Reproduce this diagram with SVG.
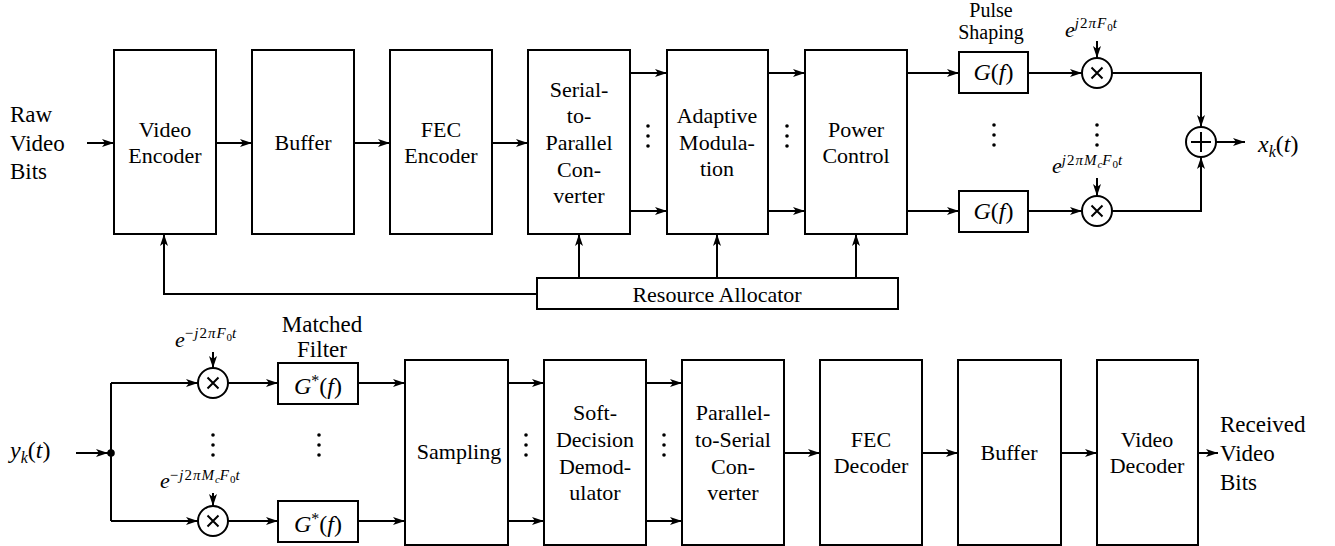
<svg xmlns="http://www.w3.org/2000/svg" width="1335" height="546" viewBox="0 0 1335 546" font-family="Liberation Serif">
<defs>
<marker id="ah" viewBox="0 0 12 10" refX="12" refY="5" markerWidth="12" markerHeight="10" markerUnits="userSpaceOnUse" orient="auto">
<path d="M0,1 L12,5 L0,9 L3,5 z" fill="#000" stroke="none"/>
</marker>
</defs>

<g id="connectors" fill="none" stroke="#000" stroke-width="2" marker-end="url(#ah)">
<line x1="87" y1="143" x2="114" y2="143"/>
<line x1="216" y1="143" x2="252" y2="143"/>
<line x1="354" y1="143" x2="390" y2="143"/>
<line x1="492" y1="143" x2="528" y2="143"/>
<line x1="630" y1="73" x2="667" y2="73"/>
<line x1="630" y1="211" x2="667" y2="211"/>
<line x1="768" y1="73" x2="805" y2="73"/>
<line x1="768" y1="211" x2="805" y2="211"/>
<line x1="907" y1="73" x2="959" y2="73"/>
<line x1="907" y1="211" x2="959" y2="211"/>
<line x1="1028" y1="73" x2="1082" y2="73"/>
<line x1="1028" y1="211" x2="1082" y2="211"/>
<line x1="1097" y1="41" x2="1097" y2="58"/>
<line x1="1097" y1="178" x2="1097" y2="196"/>
<polyline points="1112,73 1201,73 1201,127"/>
<polyline points="1112,211 1201,211 1201,157"/>
<line x1="1216" y1="142" x2="1245" y2="142"/>
<line x1="579" y1="278" x2="579" y2="234"/>
<line x1="717" y1="278" x2="717" y2="234"/>
<line x1="856" y1="278" x2="856" y2="234"/>
<polyline points="537,294 164,294 164,234"/>
<line x1="76" y1="453" x2="108" y2="453"/>
<line x1="111" y1="383" x2="111" y2="521" marker-end="none"/>
<line x1="111" y1="383" x2="198" y2="383"/>
<line x1="111" y1="521" x2="198" y2="521"/>
<line x1="213" y1="352" x2="213" y2="368"/>
<line x1="213" y1="493" x2="213" y2="506"/>
<line x1="228" y1="383" x2="278" y2="383"/>
<line x1="228" y1="521" x2="278" y2="521"/>
<line x1="358" y1="383" x2="405" y2="383"/>
<line x1="358" y1="521" x2="405" y2="521"/>
<line x1="508" y1="383" x2="544" y2="383"/>
<line x1="508" y1="521" x2="544" y2="521"/>
<line x1="646" y1="383" x2="682" y2="383"/>
<line x1="646" y1="521" x2="682" y2="521"/>
<line x1="784" y1="453" x2="820" y2="453"/>
<line x1="922" y1="453" x2="958" y2="453"/>
<line x1="1061" y1="453" x2="1097" y2="453"/>
<line x1="1198" y1="453" x2="1218" y2="453"/>
</g>

<g id="dots" fill="#000">
<circle cx="111" cy="453" r="3.8"/>
<circle cx="648" cy="126" r="1.8"/><circle cx="648" cy="136" r="1.8"/><circle cx="648" cy="146" r="1.8"/>
<circle cx="787" cy="126" r="1.8"/><circle cx="787" cy="136" r="1.8"/><circle cx="787" cy="146" r="1.8"/>
<circle cx="994" cy="125" r="1.8"/><circle cx="994" cy="135" r="1.8"/><circle cx="994" cy="145" r="1.8"/>
<circle cx="1097" cy="125" r="1.8"/><circle cx="1097" cy="135" r="1.8"/><circle cx="1097" cy="145" r="1.8"/>
<circle cx="213" cy="435" r="1.8"/><circle cx="213" cy="445" r="1.8"/><circle cx="213" cy="455" r="1.8"/>
<circle cx="319" cy="435" r="1.8"/><circle cx="319" cy="445" r="1.8"/><circle cx="319" cy="455" r="1.8"/>
<circle cx="526" cy="435" r="1.8"/><circle cx="526" cy="445" r="1.8"/><circle cx="526" cy="455" r="1.8"/>
<circle cx="664" cy="435" r="1.8"/><circle cx="664" cy="445" r="1.8"/><circle cx="664" cy="455" r="1.8"/>
</g>

<g id="raw-label" font-family="Liberation Serif" font-size="23">
<text x="10" y="122" font-family="Liberation Serif">Raw</text>
<text x="10" y="151" font-family="Liberation Serif">Video</text>
<text x="10" y="179" font-family="Liberation Serif">Bits</text>
</g>

<g id="video-encoder" font-size="22" text-anchor="middle">
<rect x="114" y="50" width="102" height="184" fill="#fff" stroke="#000" stroke-width="2"/>
<text x="165" y="137" font-family="Liberation Serif">Video</text>
<text x="165" y="163" font-family="Liberation Serif">Encoder</text>
</g>
<g id="buffer-tx" font-size="22" text-anchor="middle">
<rect x="252" y="50" width="102" height="184" fill="#fff" stroke="#000" stroke-width="2"/>
<text x="303" y="150" font-family="Liberation Serif">Buffer</text>
</g>
<g id="fec-encoder" font-size="22" text-anchor="middle">
<rect x="390" y="50" width="102" height="184" fill="#fff" stroke="#000" stroke-width="2"/>
<text x="441" y="137" font-family="Liberation Serif">FEC</text>
<text x="441" y="163" font-family="Liberation Serif">Encoder</text>
</g>
<g id="s2p" font-size="22" text-anchor="middle">
<rect x="528" y="50" width="102" height="184" fill="#fff" stroke="#000" stroke-width="2"/>
<text x="579" y="97" font-family="Liberation Serif">Serial-</text>
<text x="579" y="123" font-family="Liberation Serif">to-</text>
<text x="579" y="150" font-family="Liberation Serif">Parallel</text>
<text x="579" y="177" font-family="Liberation Serif">Con-</text>
<text x="579" y="203" font-family="Liberation Serif">verter</text>
</g>
<g id="adaptive-modulation" font-size="22" text-anchor="middle">
<rect x="667" y="50" width="101" height="184" fill="#fff" stroke="#000" stroke-width="2"/>
<text x="717" y="123" font-family="Liberation Serif">Adaptive</text>
<text x="717" y="150" font-family="Liberation Serif">Modula-</text>
<text x="717" y="176" font-family="Liberation Serif">tion</text>
</g>
<g id="power-control" font-size="22" text-anchor="middle">
<rect x="805" y="50" width="102" height="184" fill="#fff" stroke="#000" stroke-width="2"/>
<text x="856" y="137" font-family="Liberation Serif">Power</text>
<text x="856" y="163" font-family="Liberation Serif">Control</text>
</g>

<g id="pulse-shaping-label" font-size="20" text-anchor="middle">
<text x="991" y="17" font-family="Liberation Serif">Pulse</text>
<text x="991" y="39" font-family="Liberation Serif">Shaping</text>
</g>
<g id="g1" font-size="24" text-anchor="middle">
<rect x="959" y="52" width="69" height="41" fill="#fff" stroke="#000" stroke-width="2"/>
<text x="993.5" y="80" font-family="Liberation Serif"><tspan font-style="italic">G</tspan>(<tspan font-style="italic">f</tspan>)</text>
</g>
<g id="g2" font-size="24" text-anchor="middle">
<rect x="959" y="191" width="69" height="41" fill="#fff" stroke="#000" stroke-width="2"/>
<text x="993.5" y="219" font-family="Liberation Serif"><tspan font-style="italic">G</tspan>(<tspan font-style="italic">f</tspan>)</text>
</g>
<g id="mult-tx-1">
<circle cx="1097" cy="73" r="15" fill="#fff" stroke="#000" stroke-width="2"/>
<path d="M1091.5,67.5 L1102.5,78.5 M1102.5,67.5 L1091.5,78.5" fill="none" stroke="#000" stroke-width="2"/>
<text x="1065" y="37" font-family="Liberation Serif" font-size="22"><tspan font-style="italic">e</tspan><tspan dy="-9" font-size="15" letter-spacing="1"><tspan font-style="italic">j</tspan>2<tspan font-style="italic">πF</tspan></tspan><tspan dy="3" font-size="11">0</tspan><tspan dy="-3" font-size="15" font-style="italic">t</tspan></text>
</g>
<g id="mult-tx-2">
<circle cx="1097" cy="211" r="15" fill="#fff" stroke="#000" stroke-width="2"/>
<path d="M1091.5,205.5 L1102.5,216.5 M1102.5,205.5 L1091.5,216.5" fill="none" stroke="#000" stroke-width="2"/>
<text x="1052" y="173" font-family="Liberation Serif" font-size="22"><tspan font-style="italic">e</tspan><tspan dy="-8" font-size="15" letter-spacing="1"><tspan font-style="italic">j</tspan>2<tspan font-style="italic">πM</tspan></tspan><tspan dy="3" font-size="11" font-style="italic">c</tspan><tspan dy="-3" font-size="15" font-style="italic" letter-spacing="1">F</tspan><tspan dy="3" font-size="11">0</tspan><tspan dy="-3" font-size="15" font-style="italic">t</tspan></text>
</g>
<g id="sum">
<circle cx="1201" cy="142" r="15" fill="#fff" stroke="#000" stroke-width="2"/>
<path d="M1191,142 L1211,142 M1201,132 L1201,152" fill="none" stroke="#000" stroke-width="2"/>
</g>
<g id="xk-label">
<text x="1258" y="152" font-family="Liberation Serif" font-size="24"><tspan font-style="italic">x</tspan><tspan dy="5" font-size="16" font-style="italic">k</tspan><tspan dy="-5">(</tspan><tspan font-style="italic">t</tspan>)</text>
</g>

<g id="resource-allocator" font-size="22" text-anchor="middle">
<rect x="537" y="278" width="361" height="31" fill="#fff" stroke="#000" stroke-width="2"/>
<text x="717" y="302" font-family="Liberation Serif">Resource Allocator</text>
</g>

<g id="yk-label">
<text x="10" y="458" font-family="Liberation Serif" font-size="24"><tspan font-style="italic">y</tspan><tspan dy="5" font-size="16" font-style="italic">k</tspan><tspan dy="-5">(</tspan><tspan font-style="italic">t</tspan>)</text>
</g>
<g id="mult-rx-1">
<circle cx="213" cy="383" r="15" fill="#fff" stroke="#000" stroke-width="2"/>
<path d="M207.5,377.5 L218.5,388.5 M218.5,377.5 L207.5,388.5" fill="none" stroke="#000" stroke-width="2"/>
<text x="175" y="347" font-family="Liberation Serif" font-size="22"><tspan font-style="italic">e</tspan><tspan dy="-9" font-size="15" letter-spacing="1">−<tspan font-style="italic">j</tspan>2<tspan font-style="italic">πF</tspan></tspan><tspan dy="3" font-size="11">0</tspan><tspan dy="-3" font-size="15" font-style="italic">t</tspan></text>
</g>
<g id="mult-rx-2">
<circle cx="213" cy="521" r="15" fill="#fff" stroke="#000" stroke-width="2"/>
<path d="M207.5,515.5 L218.5,526.5 M218.5,515.5 L207.5,526.5" fill="none" stroke="#000" stroke-width="2"/>
<text x="160" y="488" font-family="Liberation Serif" font-size="22"><tspan font-style="italic">e</tspan><tspan dy="-8" font-size="15" letter-spacing="1">−<tspan font-style="italic">j</tspan>2<tspan font-style="italic">πM</tspan></tspan><tspan dy="3" font-size="11" font-style="italic">c</tspan><tspan dy="-3" font-size="15" font-style="italic" letter-spacing="1">F</tspan><tspan dy="3" font-size="11">0</tspan><tspan dy="-3" font-size="15" font-style="italic">t</tspan></text>
</g>
<g id="matched-filter-label" font-size="23" text-anchor="middle">
<text x="322" y="332" font-family="Liberation Serif">Matched</text>
<text x="322" y="357" font-family="Liberation Serif">Filter</text>
</g>
<g id="gs1" font-size="24" text-anchor="middle">
<rect x="278" y="363" width="80" height="41" fill="#fff" stroke="#000" stroke-width="2"/>
<text x="318" y="394" font-family="Liberation Serif"><tspan font-style="italic">G</tspan><tspan dy="-8" font-size="16">*</tspan><tspan dy="8">(</tspan><tspan font-style="italic">f</tspan>)</text>
</g>
<g id="gs2" font-size="24" text-anchor="middle">
<rect x="278" y="501" width="80" height="41" fill="#fff" stroke="#000" stroke-width="2"/>
<text x="318" y="532" font-family="Liberation Serif"><tspan font-style="italic">G</tspan><tspan dy="-8" font-size="16">*</tspan><tspan dy="8">(</tspan><tspan font-style="italic">f</tspan>)</text>
</g>

<g id="sampling" font-size="22" text-anchor="middle">
<rect x="405" y="360" width="103" height="185" fill="#fff" stroke="#000" stroke-width="2"/>
<text x="459" y="459" font-family="Liberation Serif">Sampling</text>
</g>
<g id="soft-demod" font-size="22" text-anchor="middle">
<rect x="544" y="360" width="102" height="185" fill="#fff" stroke="#000" stroke-width="2"/>
<text x="595" y="420" font-family="Liberation Serif">Soft-</text>
<text x="595" y="447" font-family="Liberation Serif">Decision</text>
<text x="595" y="474" font-family="Liberation Serif">Demod-</text>
<text x="595" y="500" font-family="Liberation Serif">ulator</text>
</g>
<g id="p2s" font-size="22" text-anchor="middle">
<rect x="682" y="360" width="102" height="185" fill="#fff" stroke="#000" stroke-width="2"/>
<text x="733" y="420" font-family="Liberation Serif">Parallel-</text>
<text x="733" y="447" font-family="Liberation Serif">to-Serial</text>
<text x="733" y="474" font-family="Liberation Serif">Con-</text>
<text x="733" y="500" font-family="Liberation Serif">verter</text>
</g>
<g id="fec-decoder" font-size="22" text-anchor="middle">
<rect x="820" y="360" width="102" height="185" fill="#fff" stroke="#000" stroke-width="2"/>
<text x="871" y="447" font-family="Liberation Serif">FEC</text>
<text x="871" y="473" font-family="Liberation Serif">Decoder</text>
</g>
<g id="buffer-rx" font-size="22" text-anchor="middle">
<rect x="958" y="360" width="103" height="185" fill="#fff" stroke="#000" stroke-width="2"/>
<text x="1009" y="460" font-family="Liberation Serif">Buffer</text>
</g>
<g id="video-decoder" font-size="22" text-anchor="middle">
<rect x="1097" y="360" width="101" height="185" fill="#fff" stroke="#000" stroke-width="2"/>
<text x="1147" y="447" font-family="Liberation Serif">Video</text>
<text x="1147" y="473" font-family="Liberation Serif">Decoder</text>
</g>
<g id="received-label" font-size="23">
<text x="1220" y="432" font-family="Liberation Serif">Received</text>
<text x="1220" y="461" font-family="Liberation Serif">Video</text>
<text x="1220" y="490" font-family="Liberation Serif">Bits</text>
</g>
</svg>
